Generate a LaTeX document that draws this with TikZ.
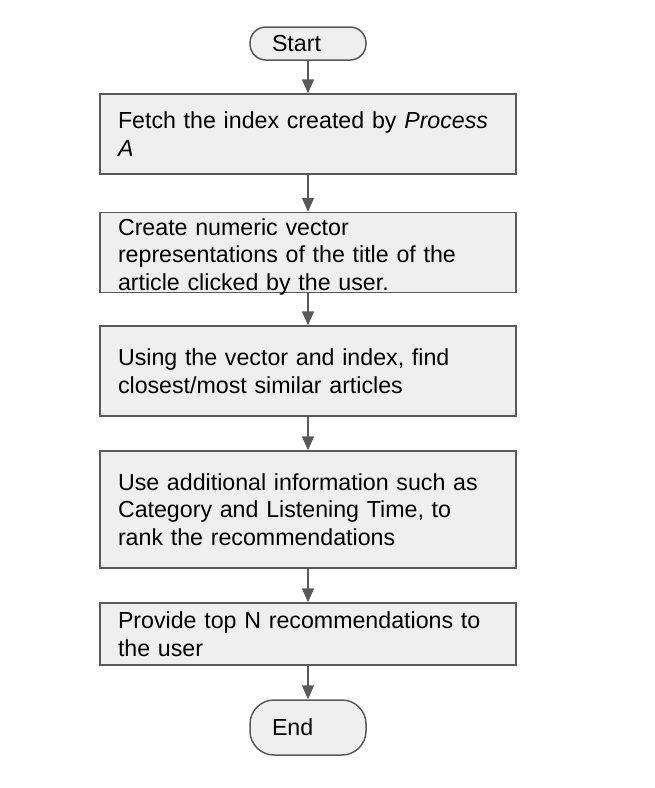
\documentclass[tikz,border=0pt]{standalone}
\usepackage{fontspec}
\setmainfont{Liberation Sans}
\usetikzlibrary{arrows.meta}

\definecolor{linegray}{HTML}{595959}
\definecolor{boxgray}{HTML}{EFEFEF}

\begin{document}
\begin{tikzpicture}[x=0.5pt, y=-0.5pt, >={Triangle[length=7pt,width=6pt]},
    terminal/.style={draw=linegray, fill=boxgray, line width=0.75pt, minimum width=58pt,
        text width=36pt, inner xsep=11pt, align=left,
        font=\fontsize{11.6}{13.75}\selectfont},
    process/.style={draw=linegray, fill=boxgray, line width=0.75pt, minimum width=208pt,
        text width=190pt, inner xsep=9pt, inner ysep=0pt, align=left,
        font=\fontsize{11.6}{13.75}\selectfont},
    lowered/.style={execute at begin node={\rule{0pt}{10.5pt}}, execute at end node={\vspace*{-2pt}}},
    flow/.style={->, draw=linegray, fill=linegray, line width=0.75pt}]

        % Fix the page size (pixels of the reference)
        \useasboundingbox (0,0) rectangle (654,788);

        % Start and end terminals
        \node[terminal, rounded corners=8pt, minimum height=16.5pt] (start) at (308,43.5) {Start};
        \node[terminal, rounded corners=12pt, minimum height=27.5pt] (end) at (308,727.5) {End};

        % Process steps
        \node[process, minimum height=40pt] (fetch) at (308,134)
            {Fetch the index created by \textit{Process}\\ \textit{A}};
        \node[process, lowered, minimum height=40pt] (vector) at (308,252.5)
            {Create numeric vector\\ representations of the title of the\\ article clicked by the user.};
        \node[process, minimum height=45pt] (similar) at (308,371)
            {Using the vector and index, find\\ closest/most similar articles};
        \node[process, minimum height=58.5pt] (rank) at (308,509.5)
            {Use additional information such as\\ Category and Listening Time, to\\ rank the recommendations};
        \node[process, minimum height=31pt] (provide) at (308,634)
            {Provide top N recommendations to\\ the user};

        % Connectors
        \draw[flow] (start) -- (fetch);
        \draw[flow] (fetch) -- (vector);
        \draw[flow] (vector) -- (similar);
        \draw[flow] (similar) -- (rank);
        \draw[flow] (rank) -- (provide);
        \draw[flow] (provide) -- (end);

    \end{tikzpicture}
\end{document}
